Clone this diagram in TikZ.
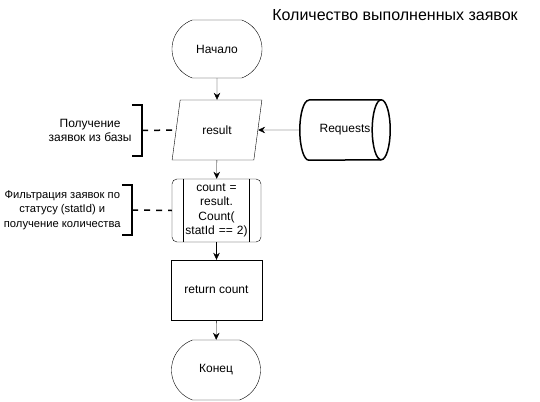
\documentclass[tikz,border=0pt]{standalone}
\usepackage{fontspec}
\setmainfont{Liberation Sans}
\usetikzlibrary{shapes.geometric, shapes.misc, arrows.meta, positioning, calc}

\tikzset{
  every node/.style={font=\fontsize{12}{14.4}\selectfont, inner sep=0pt},
  term/.style={draw, rounded rectangle, rounded rectangle arc length=140, minimum width=90pt, minimum height=58pt},
  io/.style={draw, trapezium, trapezium left angle=70, trapezium right angle=110, trapezium stretches=true, minimum width=90pt, minimum height=60pt},
  proc/.style={draw, rectangle, minimum width=90pt, minimum height=60pt},
  flow/.style={-{Stealth[length=7pt,width=6.5pt]}},
  note/.style={dash pattern=on 6pt off 6pt, line width=1.5pt},
}

\begin{document}
\begin{tikzpicture}[x=1pt, y=-1pt]
\useasboundingbox (0,0) rectangle (540,401);

% Title
\node[font=\fontsize{16}{19}\selectfont] (title) at (395,15) {Количество выполненных заявок};

% Main flow
\node[term] (start) at (217,49) {Начало};
\node[io] (res) at (217,130) {result};
\node[proc, rounded corners=5pt, minimum width=89pt, minimum height=63pt, text width=65pt, align=center] (cnt) at (216.5,210.5) {count =\\result.\\Count(\\statId == 2)};
\node[proc, minimum width=91pt] (ret) at (216.5,290) {return count};
\node[term, minimum width=89pt, minimum height=60pt] (fin) at (216,370) {Конец};

% Subprocess inner lines
\draw ($(cnt.north west)+(11,0)$) -- ($(cnt.south west)+(11,0)$);
\draw ($(cnt.north east)+(-12,0)$) -- ($(cnt.south east)+(-12,0)$);

% Storage
\node[minimum width=90pt, minimum height=60pt] (req) at (345,130) {Requests};
\draw[line width=1.5pt] ($(req.north west)+(9,0)$) -- ($(req.north east)+(-9,0)$)
  arc[start angle=90, end angle=-90, x radius=9pt, y radius=30pt]
  -- ($(req.south west)+(9,0)$)
  arc[start angle=270, end angle=90, x radius=9pt, y radius=30pt];
\draw[line width=1.5pt] ($(req.north east)+(-9,0)$) arc[start angle=90, end angle=270, x radius=9pt, y radius=30pt];

\draw[flow] (start) -- (res);
\draw[flow] (res) -- (cnt);
\draw[flow] (cnt) -- (ret);
\draw[flow] (ret) -- (fin);
\draw[flow] (req.west) -- (res.east);

% Annotations
\node[minimum width=10pt, minimum height=51pt] (ann1) at (137,130.5) {};
\draw[line width=1.5pt] (ann1.north west) -- (ann1.north east) -- (ann1.south east) -- (ann1.south west);
\node[left=0pt of ann1, align=center] (txt1) {Получение\\заявок из базы};
\draw[note] (ann1.east) -- (res.west);

\node[minimum width=10pt, minimum height=50pt] (ann2) at (127,210) {};
\draw[line width=1.5pt] (ann2.north west) -- (ann2.north east) -- (ann2.south east) -- (ann2.south west);
\node[left=1pt of ann2, align=center, font=\fontsize{11.2}{14.4}\selectfont] (txt2) {Фильтрация заявок по\\статусу (statId) и\\получение количества};
\draw[note] (ann2.east) -- (cnt.west);
\end{tikzpicture}
\end{document}
